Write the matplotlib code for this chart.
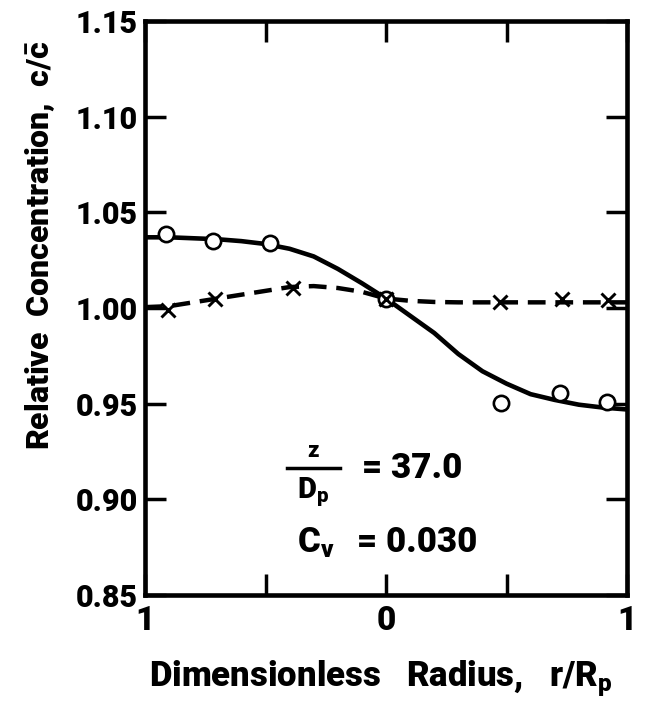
import matplotlib
matplotlib.use("Agg")
import matplotlib.pyplot as plt
from matplotlib.lines import Line2D

# Measured points: open circles and crosses
circle_r = [-0.913, -0.718, -0.48, 0.0, 0.477, 0.722, 0.917]
circle_c = [1.0385, 1.035, 1.034, 1.005, 0.9505, 0.9558, 0.951]
cross_r = [-0.905, -0.71, -0.386, 0.0, 0.473, 0.73, 0.921]
cross_c = [0.9992, 1.005, 1.0107, 1.005, 1.003, 1.0045, 1.004]

# Smooth curves through the data
curve_r = [-1.0, -0.9, -0.8, -0.7, -0.6, -0.5, -0.4, -0.3, -0.2, -0.1, 0.0,
           0.1, 0.2, 0.3, 0.4, 0.5, 0.6, 0.7, 0.8, 0.9, 1.0]
solid_c = [1.037, 1.037, 1.0365, 1.036, 1.035, 1.0335, 1.031, 1.027, 1.0205,
           1.013, 1.005, 0.996, 0.987, 0.976, 0.967, 0.9605, 0.955, 0.952,
           0.9495, 0.948, 0.947]
dashed_c = [1.0005, 1.001, 1.003, 1.005, 1.007, 1.009, 1.011, 1.0115, 1.0105,
            1.0085, 1.005, 1.0038, 1.0032, 1.003, 1.003, 1.003, 1.003, 1.003,
            1.003, 1.003, 1.003]

y_ticks = [0.85, 0.90, 0.95, 1.00, 1.05, 1.10, 1.15]
y_labels = ["0.85", "0.90", "0.95", "1.00", "1.05", "1.10", "1.15"]
x_ticks = [-1.0, -0.5, 0.0, 0.5, 1.0]
x_labels = ["1", "", "0", "", "1"]

plt.rcParams["font.family"] = ["Roboto", "DejaVu Sans"]
plt.rcParams["font.weight"] = "heavy"
plt.rcParams["axes.labelweight"] = "heavy"
plt.rcParams["mathtext.fontset"] = "custom"
plt.rcParams["mathtext.rm"] = "Roboto:heavy"
plt.rcParams["mathtext.it"] = "Roboto:heavy"
plt.rcParams["mathtext.bf"] = "Roboto:heavy"

fig = plt.figure(figsize=(6.6, 7.05), dpi=100)
ax = fig.add_axes([0.2197, 0.156, 0.7303, 0.814])

ax.plot(curve_r, solid_c, color="black", lw=3.3, solid_capstyle="round",
        solid_joinstyle="round", zorder=2)
ax.plot(curve_r, dashed_c, color="black", lw=3.2, dashes=(4, 2.2),
        dash_capstyle="butt", zorder=2)
ax.plot(circle_r, circle_c, linestyle="none", marker="o", ms=11,
        mfc="white", mec="black", mew=1.9, zorder=3)
ax.plot(cross_r, cross_c, linestyle="none", marker="x", ms=10,
        mec="black", mew=2.1, zorder=4)

ax.set_xlim(-1, 1)
ax.set_ylim(0.85, 1.15)
ax.set_yticks(y_ticks)
ax.set_yticklabels(y_labels)
ax.set_xticks(x_ticks)
ax.set_xticklabels(x_labels)

for s in ax.spines.values():
    s.set_linewidth(3.3)

ax.tick_params(axis="y", which="both", direction="in", length=15, width=2.5,
               right=True, labelsize=22, pad=5)
ax.tick_params(axis="x", which="both", direction="in", length=15, width=2.5,
               top=True, labelsize=24, pad=7)

ax.set_xlabel(r"Dimensionless   Radius,   r/R$_\mathregular{p}$", fontsize=25)
ax.xaxis.set_label_coords(0.49, -0.11)
ax.set_ylabel(r"Relative  Concentration,  c/$\bar{\mathregular{c}}$",
              fontsize=23)
ax.yaxis.set_label_coords(-0.183, 0.61)

# Flow parameters
ax.text(0.349, 0.232, "z", transform=ax.transAxes, ha="center",
        va="bottom", fontsize=16)
ax.add_line(Line2D([0.295, 0.405], [0.221, 0.221], transform=ax.transAxes,
                   color="black", lw=2.5))
ax.text(0.349, 0.208, r"D$_\mathregular{p}$", transform=ax.transAxes,
        ha="center", va="top", fontsize=21)
ax.text(0.45, 0.221, "= 37.0", transform=ax.transAxes, ha="left",
        va="center", fontsize=25)
ax.text(0.315, 0.092, r"C$_\mathregular{v}$", transform=ax.transAxes,
        ha="left", va="center", fontsize=25)
ax.text(0.44, 0.092, "= 0.030", transform=ax.transAxes, ha="left",
        va="center", fontsize=25)

fig.savefig("out.png", dpi=100)
